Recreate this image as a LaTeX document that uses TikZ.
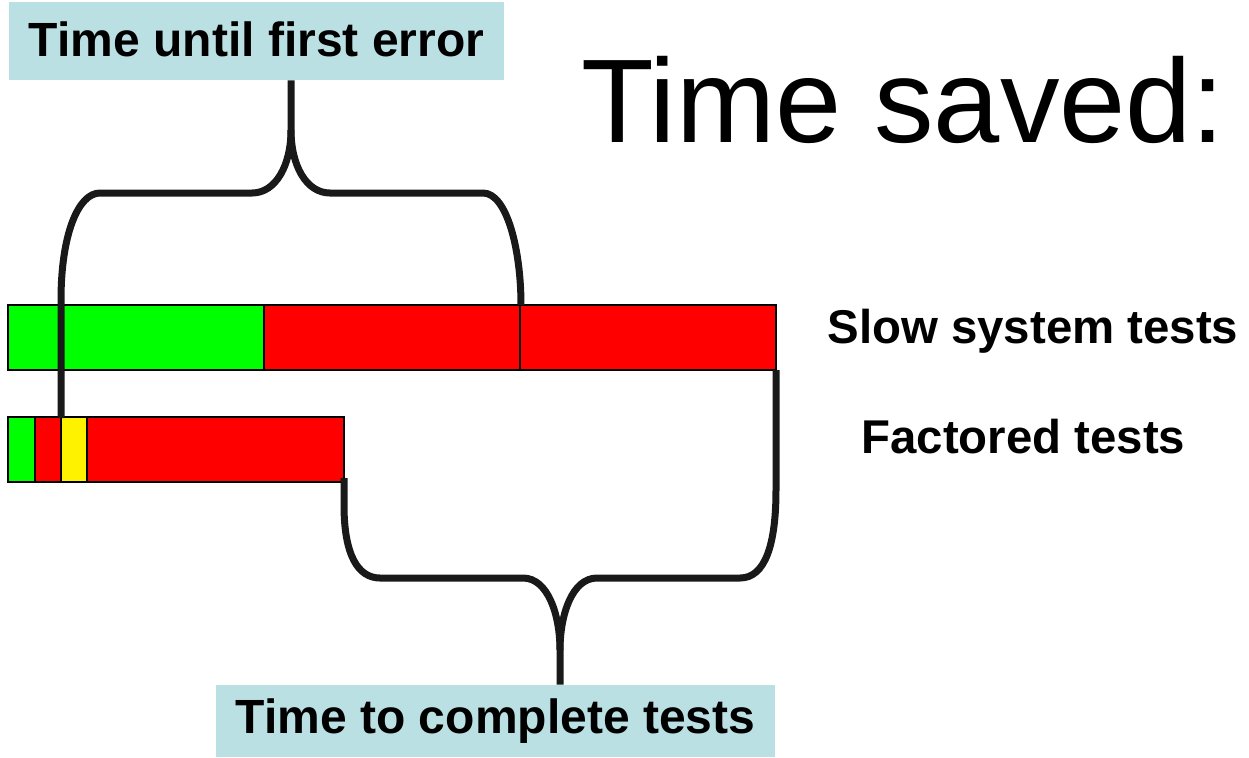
\documentclass[tikz,border=0pt]{standalone}
\usepackage{fontspec}
\setmainfont{Liberation Sans}
\usetikzlibrary{positioning}

\definecolor{tagblue}{HTML}{BBE0E3}

\tikzset{
    seg/.style={draw=black, line width=1pt},
    brace/.style={line width=3.5pt, black!90},
    tag/.style={fill=tagblue, inner sep=0pt, font=\fontsize{24}{28}\bfseries\selectfont},
    bartext/.style={anchor=base west, inner sep=0pt, font=\fontsize{23.7}{28}\bfseries\selectfont},
}

\begin{document}
\begin{tikzpicture}[x=0.5pt, y=-0.5pt]
    \useasboundingbox (0,0) rectangle (1249,757);

    % labels
    \node[tag, minimum width=247.5pt, minimum height=39pt, text depth=2pt] (first) at (256.5,41) {Time until first error};
    \node[tag, minimum width=279.5pt, minimum height=36pt] (complete) at (495.5,721) {Time to complete tests};
    \node[anchor=base west, inner sep=0pt, font=\fontsize{59.5}{70}\selectfont] (saved) at (581,142) {Time saved:};
    \node[bartext] (slow) at (827,343) {Slow system tests};
    \node[bartext] (factored) at (861,453) {Factored tests};

    % slow system tests
    \draw[seg, fill=green] (8,305) rectangle (264,370);
    \draw[seg, fill=red] (264,305) rectangle (520,370);
    \draw[seg, fill=red] (520,305) rectangle (776,370);

    % factored tests
    \draw[seg, fill=green] (8,417) rectangle (35,482);
    \draw[seg, fill=red] (35,417) rectangle (61,482);
    \draw[seg, fill=yellow] (61,417) rectangle (87,482);
    \draw[seg, fill=red] (87,417) rectangle (344,482);

    % brace above
    \coordinate (topTip) at (291,130);
    \draw[brace] (61,418) -- (61,300) .. controls (61,235) and (78,193) .. (100,193) -- (252,193)
        .. controls (276,193) and (291,165) .. (topTip) -- (topTip |- first.south);
    \draw[brace] (topTip) .. controls (291,165) and (306,193) .. (330,193) -- (483,193)
        .. controls (507,193) and (521,250) .. (521,305);

    % brace below
    \coordinate (botTip) at (560,650);
    \draw[brace] (344,478) -- (344,505) .. controls (344,555) and (358,578) .. (380,578) -- (523,578)
        .. controls (548,578) and (560,615) .. (botTip) -- (botTip |- complete.north);
    \draw[brace] (botTip) .. controls (560,615) and (572,578) .. (597,578) -- (740,578)
        .. controls (765,578) and (776,545) .. (776,490) -- (776,370);
\end{tikzpicture}
\end{document}
